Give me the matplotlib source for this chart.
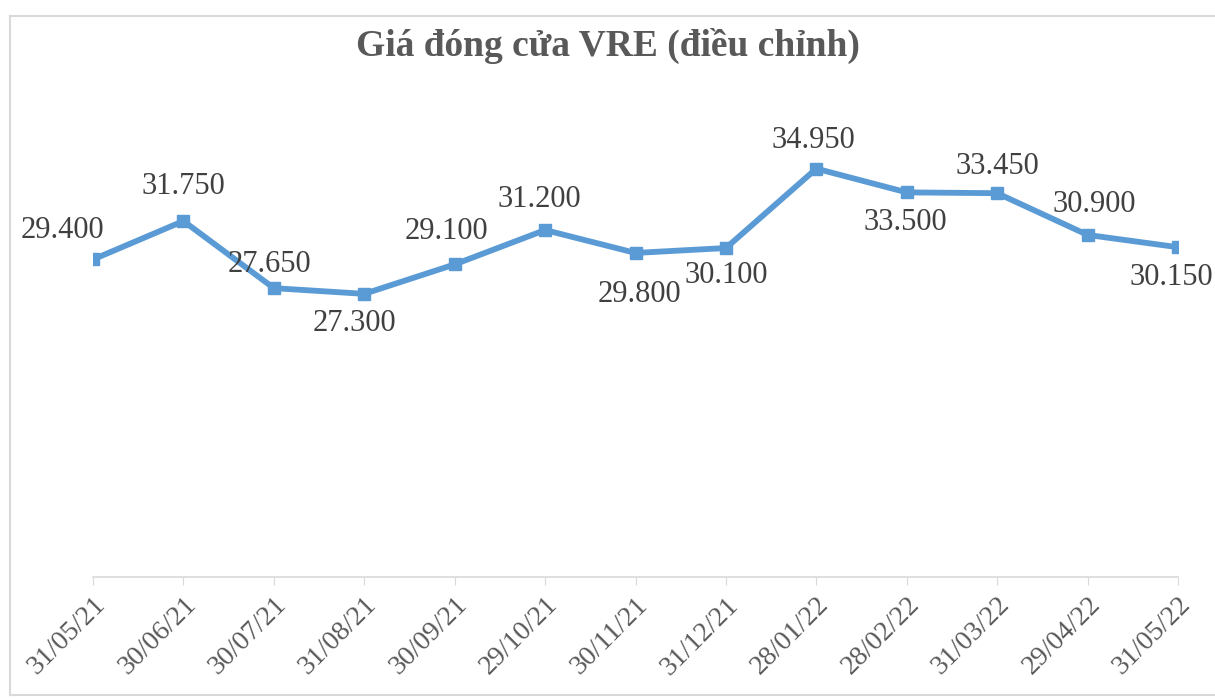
import matplotlib.pyplot as plt
from matplotlib.lines import Line2D
import numpy as np

# --- data ---
dates = ['31/05/21', '30/06/21', '30/07/21', '31/08/21', '30/09/21', '29/10/21',
         '30/11/21', '31/12/21', '28/01/22', '28/02/22', '31/03/22', '29/04/22',
         '31/05/22']
prices = [29.40, 31.75, 27.65, 27.30, 29.10, 31.20,
          29.80, 30.10, 34.95, 33.50, 33.45, 30.90, 30.15]
labels = ['29.400', '31.750', '27.650', '27.300', '29.100', '31.200',
          '29.800', '30.100', '34.950', '33.500', '33.450', '30.900', '30.150']

# label offsets in points (dx, dy), Excel-style placement
offsets = [(-22, 21), (0, 25), (-3, 17), (-7, -21), (-6, 24), (-4, 22),
           (3, -30), (0, -20), (-2, 20), (-1, -22), (0, 19), (5, 22), (-5, -22)]

plt.rcParams['font.family'] = ['Liberation Serif', 'DejaVu Serif']

fig = plt.figure(figsize=(12.15, 6.98), dpi=100)
ax = fig.add_axes([93 / 1215, 1 - 577 / 698, 1085 / 1215, 491 / 698])

x = np.arange(len(dates))
ax.plot(x, prices, color='#5B9BD5', linewidth=4.2, marker='s', markersize=9,
        solid_joinstyle='miter', zorder=3)

for xi, yi, txt, (dx, dy) in zip(x, prices, labels, offsets):
    ax.annotate(txt, xy=(xi, yi), xytext=(dx, dy), textcoords='offset points',
                ha='center', va='center', fontsize=22, color='#404040')

ax.set_xlim(0, len(dates) - 1)
ax.set_ylim(10, 40)
ax.set_xticks(x)
ax.set_xticklabels(dates, rotation=45, ha='right', rotation_mode='anchor',
                   fontsize=20, color='#595959')
ax.tick_params(axis='x', length=6, color='#D9D9D9', pad=5)
ax.set_yticks([])
for s in ['top', 'right', 'left']:
    ax.spines[s].set_visible(False)
ax.spines['bottom'].set_color('#D9D9D9')
ax.spines['bottom'].set_linewidth(1.2)

fig.text(0.5, 1 - 46 / 698, 'Giá đóng cửa VRE (điều chỉnh)', ha='center', va='center',
         fontsize=27, fontweight='bold', color='#595959')

# chart frame
W, H = 1215, 698
frame = [((10, 1215), (16, 16)), ((10, 10), (16, 695)), ((10, 1215), (695, 695))]
for xs, ys in frame:
    fig.add_artist(Line2D([v / W for v in xs], [1 - v / H for v in ys],
                          transform=fig.transFigure, color='#D9D9D9', linewidth=1.5))

fig.savefig('out.png', dpi=100)
